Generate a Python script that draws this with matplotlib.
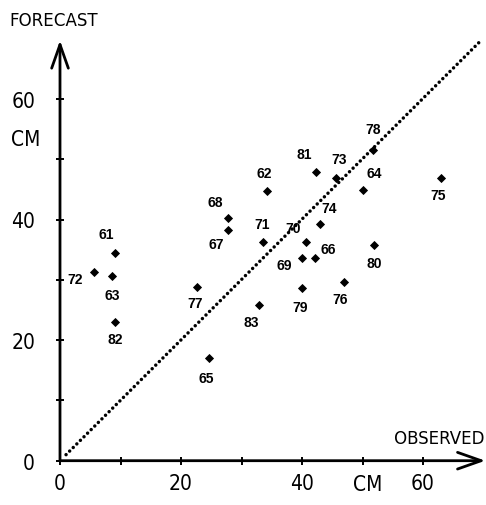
import matplotlib.pyplot as plt

# observed vs forecast (cm), one point per year
years = ['61', '62', '63', '64', '65', '66', '67', '68', '69', '70', '71', '72',
         '73', '74', '75', '76', '77', '78', '79', '80', '81', '82', '83']
observed = [9.1, 34.2, 8.6, 50.0, 24.6, 42.1, 27.7, 27.7, 40.0, 40.7, 33.5, 5.7,
            45.6, 43.0, 62.9, 46.9, 22.7, 51.7, 40.0, 51.9, 42.3, 9.1, 32.9]
forecast = [34.4, 44.7, 30.6, 44.9, 17.1, 33.6, 38.3, 40.2, 33.6, 36.3, 36.2, 31.3,
            46.8, 39.3, 46.8, 29.7, 28.8, 51.6, 28.7, 35.7, 47.8, 23.0, 25.8]

tick_pos = [0, 10, 20, 30, 40, 50, 60]
tick_lab = ['0', '', '20', '', '40', '', '60']

# label offsets in pixels (dx right, dy down) from each marker
offs = {'61': (-9, -19), '62': (-3, -18), '63': (0, 19), '64': (12, -17),
        '65': (-3, 20), '66': (14, -9), '67': (-11, 14), '68': (-12, -16),
        '69': (-18, 7), '70': (-13, -14), '71': (-1, -18), '72': (-19, 7),
        '73': (3, -19), '74': (9, -16), '75': (-2, 17), '76': (-4, 17),
        '77': (-2, 16), '78': (0, -21), '79': (-2, 19), '80': (0, 18),
        '81': (-12, -18), '82': (0, 17), '83': (-8, 17)}

narrow = dict(family='DejaVu Sans', stretch='condensed', fontsize=15)
titlef = dict(family='DejaVu Sans', stretch='condensed', fontsize=13.3)

fig = plt.figure(figsize=(4.86, 5.06), dpi=100)
ax = fig.add_axes([60 / 486, 44.3 / 506, 423.5 / 486, 422.1 / 506])
ax.set_xlim(0, 70)
ax.set_ylim(0, 70)
for s in ax.spines.values():
    s.set_visible(False)

# axes drawn as arrows
arr = dict(arrowstyle='->,head_length=0.85,head_width=0.3', lw=2.0, color='black',
           mutation_scale=20, shrinkA=0, shrinkB=0)
ax.annotate('', xy=(70.3, 0), xytext=(0, 0), arrowprops=arr, annotation_clip=False)
ax.annotate('', xy=(0, 69.7), xytext=(0, 0), arrowprops=arr, annotation_clip=False)

ax.set_xticks(tick_pos)
ax.set_xticklabels(tick_lab, **narrow)
ax.set_yticks(tick_pos)
ax.set_yticklabels(tick_lab, **narrow)
ax.tick_params(direction='inout', length=6, width=1.4, color='black')
ax.tick_params(axis='x', pad=6)
ax.tick_params(axis='y', pad=15)

# 1:1 line
ax.plot([1, 69.3], [1, 69.4], color='black', lw=2.5,
        linestyle=(0, (0.01, 1.45)), dash_capstyle='round')

ax.plot(observed, forecast, 'D', color='black', ms=4.3, mew=0.6)
for yr, xo, yf in zip(years, observed, forecast):
    dx, dy = offs[yr]
    ax.annotate(yr, (xo, yf), xytext=(dx * 0.72, -dy * 0.72), textcoords='offset points',
                ha='center', va='center', fontsize=10, fontweight='bold',
                family='Liberation Sans')

fig.text(53.5 / 486, 1 - 21 / 506, 'FORECAST', ha='center', va='center', **titlef)
fig.text(439 / 486, 1 - 439.5 / 506, 'OBSERVED', ha='center', va='center', **titlef)
fig.text(25.7 / 486, 1 - 140 / 506, 'CM', ha='center', va='center', **narrow)
fig.text(368 / 486, 1 - 485 / 506, 'CM', ha='center', va='center', **narrow)

fig.savefig('out.png', dpi=100)
